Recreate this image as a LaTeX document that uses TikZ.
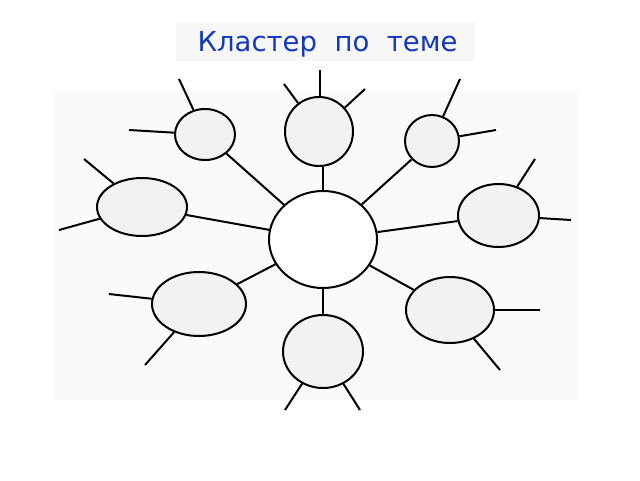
\documentclass[tikz,border=0pt]{standalone}
\usepackage{fontspec}
\newfontfamily\titlefont{DejaVu Sans}
\usetikzlibrary{shapes.geometric}
\definecolor{bgpanel}{HTML}{FBFAF9}
\definecolor{titlebg}{HTML}{F7F7F7}
\definecolor{titleblue}{HTML}{1438C0}
\definecolor{bubblefill}{HTML}{F2F2F4}
\tikzset{
  bubble/.style={ellipse, draw=black, line width=2pt, fill=bubblefill, inner sep=0pt},
  hub/.style={bubble, fill=white},
  spoke/.style={line width=2pt, black}
}
\begin{document}
\begin{tikzpicture}[x=1pt,y=-1pt]
\useasboundingbox (0,0) rectangle (640,480);
\fill[white] (0,0) rectangle (640,480);
\fill[bgpanel] (54,91) rectangle (578,400);
\fill[titlebg] (176,22) rectangle (475,61);
\node[text=titleblue, font=\titlefont\fontsize{27.5}{32}\selectfont] (title) at (327.5,44) {Кластер\ \ по\ \ теме};

\node[hub, minimum width=108pt, minimum height=97pt] (C0) at (323,239.5) {};
\node[bubble, minimum width=60pt, minimum height=51pt] (A) at (205,134.5) {};
\node[bubble, minimum width=68pt, minimum height=69pt] (B) at (319,131.5) {};
\node[bubble, minimum width=54pt, minimum height=52pt] (C) at (432,141) {};
\node[bubble, minimum width=90pt, minimum height=58pt] (D) at (142,207) {};
\node[bubble, minimum width=81pt, minimum height=63pt] (E) at (498.5,215.5) {};
\node[bubble, minimum width=94pt, minimum height=64pt] (F) at (199,304) {};
\node[bubble, minimum width=80pt, minimum height=73pt] (G) at (323,351.5) {};
\node[bubble, minimum width=88pt, minimum height=66pt] (H) at (450,310) {};

% hub connectors
\draw[spoke] (C0) -- (A);
\draw[spoke] (C0.north) -- (C0.north |- B.south);
\draw[spoke] (C0) -- (C);
\draw[spoke] (C0) -- (D);
\draw[spoke] (C0) -- (E);
\draw[spoke] (C0) -- (F);
\draw[spoke] (C0.south) -- (C0.south |- G.north);
\draw[spoke] (C0) -- (H);

% free ends
\coordinate (a1) at (179,79);
\coordinate (a2) at (129,130);
\coordinate (b1) at (320,70);
\coordinate (b2) at (284,84);
\coordinate (b3) at (365,89);
\coordinate (c1) at (460,79);
\coordinate (c2) at (496,130);
\coordinate (d1) at (84,159);
\coordinate (d2) at (59,230);
\coordinate (e1) at (535,159);
\coordinate (e2) at (571,220);
\coordinate (f1) at (109,294);
\coordinate (f2) at (145,365);
\coordinate (g1) at (285,410);
\coordinate (g2) at (360,410);
\coordinate (h1) at (540,310);
\coordinate (h2) at (500,370);

\draw[spoke] (A) -- (a1);
\draw[spoke] (A) -- (a2);
\draw[spoke] (B.north -| b1) -- (b1);
\draw[spoke] (B) -- (b2);
\draw[spoke] (B) -- (b3);
\draw[spoke] (C) -- (c1);
\draw[spoke] (C) -- (c2);
\draw[spoke] (D) -- (d1);
\draw[spoke] (D) -- (d2);
\draw[spoke] (E) -- (e1);
\draw[spoke] (E) -- (e2);
\draw[spoke] (F) -- (f1);
\draw[spoke] (F) -- (f2);
\draw[spoke] (G) -- (g1);
\draw[spoke] (G) -- (g2);
\draw[spoke] (H) -- (h1);
\draw[spoke] (H) -- (h2);
\end{tikzpicture}
\end{document}
